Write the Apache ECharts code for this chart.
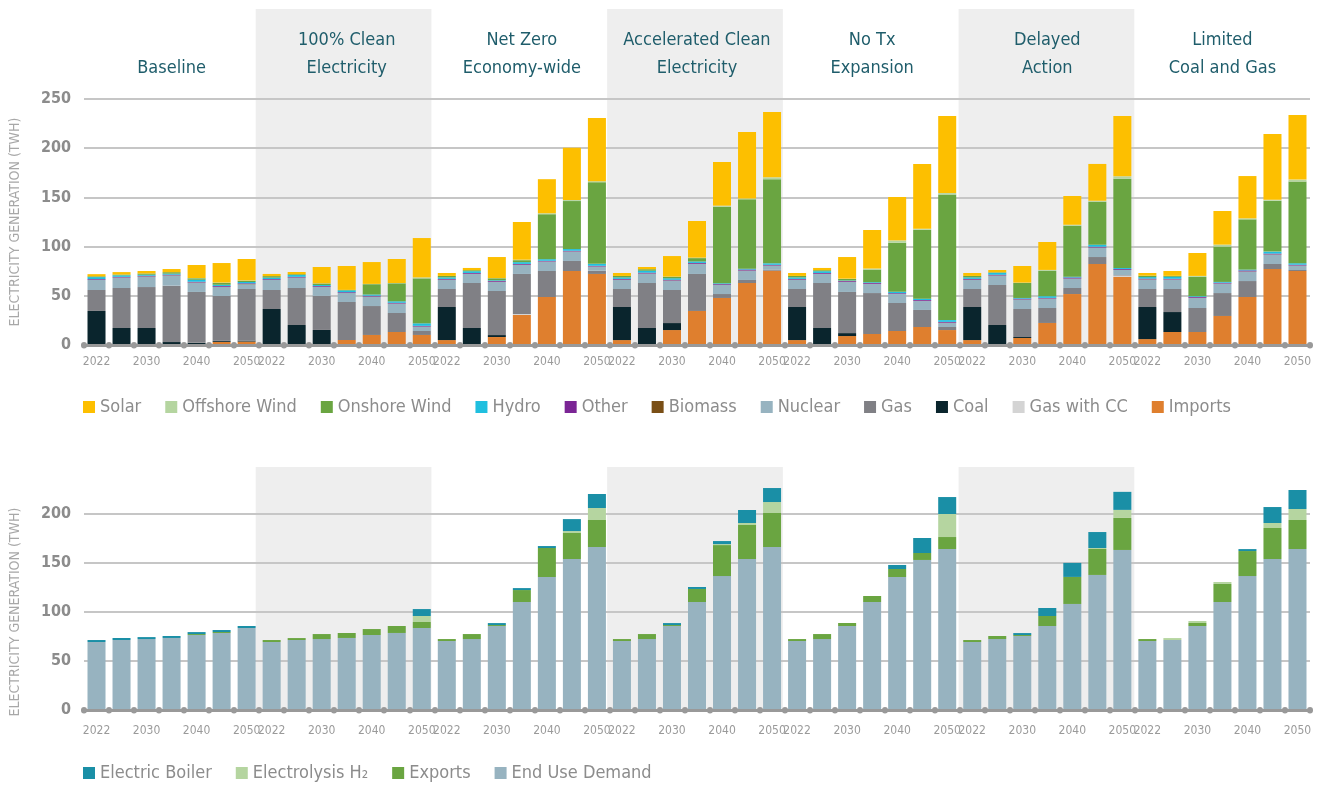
<!DOCTYPE html>
<html>
<head>
<meta charset="utf-8">
<script src="https://cdn.jsdelivr.net/npm/echarts@6/dist/echarts.min.js"></script>
<style>
  html, body { margin: 0; padding: 0; background: #fff; }
  #chart { width: 1322px; height: 785px; }
</style>
</head>
<body>
<div id="chart"></div>
<script>
const scenarios = ['Baseline', '100% Clean\nElectricity', 'Net Zero\nEconomy-wide', 'Accelerated Clean\nElectricity',
  'No Tx\nExpansion', 'Delayed\nAction', 'Limited\nCoal and Gas']
const years = ['2022', '2025', '2030', '2035', '2040', '2045', '2050']
const shownYears = ['2022', '2030', '2040', '2050']

// generation (TWh), 7 years per scenario, stacked bottom -> top
const imports = [1, 0.3, 0.3, 0.3, 1, 3.2, 3.5,
  1, 0.3, 0.3, 5.1, 10.2, 13.2, 10.2,
  5, 0.3, 8.1, 30.5, 48.8, 75.2, 72.2,
  5, 0.3, 15.2, 34.6, 47.8, 63, 75.5,
  5, 0.3, 9.1, 11.2, 14.2, 18.3, 15.2,
  5, 0.3, 7.1, 22.4, 51.8, 82.3, 69.1,
  6, 13.2, 13.2, 29.5, 48.8, 77.2, 75.2]
const gasCC = [0, 0, 0, 0, 0, 0, 0,
  0, 0, 0, 0, 0, 0, 0,
  0, 0, 0, 1, 0, 0, 0,
  0, 0, 0, 0, 0, 0, 0,
  0, 0, 0, 0, 0, 0, 0,
  0, 0, 0, 0, 0, 0, 1.5,
  0, 0, 0, 0, 0, 0, 0]
const coal = [33.6, 17, 17, 2.7, 1.2, 1, 1,
  35.6, 20, 15, 0, 0, 0, 0,
  33.6, 17, 2, 0, 0, 0, 0,
  33.6, 17, 7.1, 0, 0, 0, 0,
  33.6, 17, 3, 0, 0, 0, 0,
  33.6, 20, 1, 0, 0, 0, 0,
  32.6, 20.3, 0, 0, 0, 0, 0]
const gas = [21.3, 40.6, 41.6, 57.3, 51.7, 45.6, 52.4,
  19.3, 37.6, 34.6, 38.6, 29.4, 19.3, 4,
  18.3, 45.7, 44.8, 40.7, 26.4, 10.2, 3.3,
  18.3, 45.7, 33.6, 37.6, 4, 3.1, 1.1,
  18.3, 45.7, 41.8, 41.6, 28.5, 17.3, 3.1,
  18.3, 40.7, 28.5, 15.2, 6.1, 7.1, 0.5,
  18.3, 23.4, 24.4, 23.3, 16.2, 5.1, 1]
const nuclear = [10.2, 10.5, 10.5, 10.2, 9.4, 9.1, 4.8,
  10.2, 10.5, 9.1, 9.1, 9.5, 9.5, 4.4,
  9.2, 9.2, 9.1, 9.1, 9.5, 9.5, 4.1,
  9.2, 9.5, 9.5, 10.1, 9.2, 9.4, 4,
  9.2, 9.2, 10.1, 9.2, 9.1, 9.1, 4.1,
  9.2, 9.5, 9.5, 9.5, 9.5, 9.5, 5.1,
  9.5, 9.5, 10.2, 9.5, 9.5, 9.5, 4.4]
const biomass = [0.2, 0.2, 0.3, 0.3, 0.3, 0.3, 0.3,
  0.2, 0.2, 0.3, 0.2, 0.2, 0.2, 0.2,
  0.3, 0.2, 0.3, 0.3, 0.2, 0.2, 0.2,
  0.3, 0.2, 0.2, 0.3, 0.2, 0.2, 0.2,
  0.3, 0.2, 0.3, 0.2, 0.2, 0.2, 0.3,
  0.3, 0.2, 0.2, 0.2, 0.2, 0.2, 0.2,
  0.3, 0.2, 0.2, 0.2, 0.3, 0.3, 0.2]
const other = [0.7, 0.7, 0.7, 0.7, 0.7, 0.8, 0.7,
  0.7, 0.7, 0.7, 0.7, 0.8, 0.7, 0.7,
  0.8, 0.8, 0.8, 0.8, 0.7, 0.7, 0.7,
  0.8, 0.8, 0.7, 0.8, 0.7, 1, 0.7,
  0.8, 0.8, 0.8, 0.8, 0.7, 0.8, 0.8,
  0.8, 0.7, 0.8, 0.6, 1, 0.8, 0.8,
  0.8, 0.7, 0.8, 0.8, 1, 0.8, 0.8]
const hydro = [2, 1.5, 1, 1, 2, 1.2, 1.3,
  1.5, 1.8, 1, 1.8, 1.2, 1.5, 2.5,
  1.5, 1.8, 0.7, 1.8, 1.6, 1.7, 2,
  1.5, 2, 1.5, 1.5, 0.8, 0.8, 1.5,
  1.5, 1.8, 0.5, 0.8, 1.4, 1.4, 1.8,
  1.5, 2, 0.7, 1.7, 0.8, 2, 1,
  1.5, 2, 0.8, 0.8, 0.8, 2, 1.5]
const onshore = [0.8, 0.8, 1.3, 1.5, 1.5, 2, 1.3,
  1.5, 0.8, 1.5, 0.5, 10.5, 18.3, 45.7,
  1.5, 1, 2, 2, 45.7, 48.8, 83,
  1.5, 1.5, 1.5, 3.4, 77.9, 70.5, 85.4,
  1.5, 1, 1.5, 12.9, 49.8, 70.1, 127.7,
  1.5, 0.5, 15.2, 25.7, 51.8, 43.7, 90.8,
  1.5, 1, 19.6, 35.9, 51.1, 51.8, 83]
const offshore = [0, 0, 0, 0, 0.3, 0.3, 0.3,
  0, 0, 0.2, 0, 0.3, 0.3, 1,
  0, 0, 0.2, 0.5, 1, 1, 1,
  0, 0, 0.2, 0.5, 1, 1, 2,
  0, 0, 0.3, 1, 2.4, 1, 1.4,
  0, 0, 0.4, 1, 1, 1, 2.4,
  0, 0, 1, 2, 1, 1, 2]
const solar = [2.2, 2.5, 2.5, 3.2, 13.2, 19.8, 21.8,
  2.2, 2.3, 16.6, 24.3, 22.2, 24.4, 40,
  3, 2.3, 21.4, 38.3, 34.6, 53.2, 64.2,
  3, 2.3, 20.9, 37.2, 44.4, 67.5, 66.4,
  3, 2.3, 22, 39.2, 44.1, 65.8, 78.3,
  3, 2.3, 16.9, 28.4, 29.2, 37.4, 61.3,
  2.7, 4.9, 23.3, 34.2, 43, 66.7, 65.6]

// demand side (TWh)
const endUse = [69.4, 71.4, 72.4, 73.5, 76.5, 78.6, 83.7,
  69.4, 71.4, 72.4, 73.5, 76.5, 78.6, 83.7,
  70.4, 72.4, 85.7, 110.2, 135.7, 154.1, 166.3,
  70.4, 72.4, 85.7, 110.2, 136.7, 154.1, 166.3,
  70.4, 72.4, 85.7, 110.2, 135.7, 153.1, 164.3,
  69.4, 72.4, 75.5, 85.7, 108.2, 137.8, 163.3,
  70.4, 71.4, 85.7, 110.2, 136.7, 154.1, 164.3]
const exportsTwh = [0, 0, 0, 0, 1, 1, 0,
  2, 2, 5.1, 5.1, 6.1, 7.1, 6.1,
  2, 5.1, 1, 12.2, 29.6, 26.5, 27.6,
  2, 5.1, 1, 13.3, 31.6, 34.7, 34.7,
  2, 5.1, 3.1, 6.1, 8.2, 7.1, 12.2,
  2, 3.1, 1, 10.2, 27.6, 26.5, 32.7,
  2, 0, 3.1, 18.4, 25.5, 31.6, 29.6]
const electrolysis = [0, 0, 0, 0, 0, 0, 0,
  0, 0, 0, 0, 0, 0, 6.1,
  0, 0, 0, 0, 0, 2, 12.2,
  0, 0, 0, 0, 1, 2, 11.2,
  0, 0, 0, 0, 0, 0, 23.5,
  0, 0, 0, 0, 0, 1, 8.2,
  0, 2, 2, 2, 0, 5.1, 11.2]
const boiler = [2, 2.1, 2, 2, 2, 2, 2,
  0, 0, 0, 0, 0, 0, 7.1,
  0, 0, 2, 2, 2, 12.2, 14.3,
  0, 0, 2, 2, 3.1, 13.3, 14.3,
  0, 0, 0, 0, 4.1, 15.3, 17.3,
  0, 0, 2, 8.2, 14.3, 16.3, 18.4,
  0, 0, 0, 0, 2, 16.3, 19.4]

const cats = []
scenarios.forEach(s => years.forEach(y => cats.push(s + '|' + y)))

const font = "'Liberation Sans Narrow', 'DejaVu Sans Condensed', 'Roboto Condensed', sans-serif"
const grey = '#8c8c8c'

const topSeries = [
  ['Imports', imports, '#df7f2e'],
  ['Gas with CC', gasCC, '#d4d4d4'],
  ['Coal', coal, '#0a252d'],
  ['Gas', gas, '#808085'],
  ['Nuclear', nuclear, '#97b3c0'],
  ['Biomass', biomass, '#7a4f16'],
  ['Other', other, '#7b2595'],
  ['Hydro', hydro, '#1fbfdf'],
  ['Onshore Wind', onshore, '#6aa541'],
  ['Offshore Wind', offshore, '#b5d5a0'],
  ['Solar', solar, '#fdbf00']
]
const botSeries = [
  ['End Use Demand', endUse, '#97b3c0'],
  ['Exports', exportsTwh, '#6aa541'],
  ['Electrolysis H₂', electrolysis, '#b5d5a0'],
  ['Electric Boiler', boiler, '#1a8fa6']
]

function shadeAxis(gridIndex) {
  return {
    type: 'category', gridIndex, data: scenarios, z: 0,
    axisLine: { show: false }, axisTick: { show: false }, axisLabel: { show: false },
    splitLine: { show: false },
    splitArea: { show: true, interval: 0, areaStyle: { color: ['rgba(0,0,0,0)', '#eeeeee'] } }
  }
}

function yearAxis(gridIndex, margin) {
  return {
    type: 'category', gridIndex, data: cats, z: 3,
    axisLine: { lineStyle: { color: '#999999', width: 3 } },
    axisTick: { show: true, interval: 0, length: 0.5, lineStyle: { color: '#999999', width: 6, cap: 'round' } },
    axisLabel: {
      interval: i => shownYears.includes(years[i % 7]),
      formatter: v => v.split('|')[1],
      color: '#9a9a9a', fontFamily: font, fontSize: 12, margin
    }
  }
}

function valueAxis(gridIndex, max) {
  return {
    type: 'value', gridIndex, min: 0, max, interval: 50, z: 1,
    name: 'ELECTRICITY GENERATION (TWH)', nameLocation: 'middle', nameGap: 62,
    nameTextStyle: { color: '#a8a8a8', fontFamily: font, fontSize: 14 },
    axisLine: { show: false }, axisTick: { show: false },
    axisLabel: { color: grey, fontFamily: font, fontSize: 16, fontWeight: 'bold', margin: 13 },
    splitLine: { lineStyle: { color: '#c6c6c6', width: 2 } }
  }
}

const hiddenY = g => ({ type: 'value', gridIndex: g, show: false, min: 0, max: 1 })

const series = []
topSeries.forEach(([name, data, color]) => series.push({
  name, type: 'bar', stack: 'gen', data, xAxisIndex: 1, yAxisIndex: 1,
  barWidth: '72%', itemStyle: { color }, clip: false
}))
botSeries.forEach(([name, data, color]) => series.push({
  name, type: 'bar', stack: 'dem', data, xAxisIndex: 4, yAxisIndex: 3,
  barWidth: '72%', itemStyle: { color }, clip: false
}))

const legendText = { color: grey, fontFamily: font, fontSize: 18 }

const chart = echarts.init(document.getElementById('chart'))
chart.setOption({
  animation: false,
  backgroundColor: '#ffffff',
  grid: [
    { left: 80, right: 12, top: 9, height: 336 },
    { left: 80, right: 12, top: 99, height: 246 },
    { left: 80, right: 12, top: 467, height: 243 },
    { left: 80, right: 12, top: 514, height: 196 }
  ],
  xAxis: [
    shadeAxis(0),
    yearAxis(1, 11),
    {
      type: 'category', gridIndex: 1, position: 'top', data: scenarios,
      axisLine: { show: false }, axisTick: { show: false }, splitLine: { show: false },
      axisLabel: { interval: 0, color: '#1f5d6b', fontFamily: font, fontSize: 18, lineHeight: 28, margin: 17 }
    },
    shadeAxis(2),
    yearAxis(3, 15)
  ],
  yAxis: [hiddenY(0), valueAxis(1, 250), hiddenY(2), valueAxis(3, 200)],
  legend: [
    {
      left: 78, top: 393, itemWidth: 12, itemHeight: 12, itemGap: 24, itemTextGap: 10,
      icon: 'rect', textStyle: legendText,
      data: ['Solar', 'Offshore Wind', 'Onshore Wind', 'Hydro', 'Other', 'Biomass', 'Nuclear', 'Gas', 'Coal', 'Gas with CC', 'Imports']
    },
    {
      left: 78, top: 759, itemWidth: 12, itemHeight: 12, itemGap: 24, itemTextGap: 10,
      icon: 'rect', textStyle: legendText,
      data: ['Electric Boiler', 'Electrolysis H₂', 'Exports', 'End Use Demand']
    }
  ],
  series
})
</script>
</body>
</html>
